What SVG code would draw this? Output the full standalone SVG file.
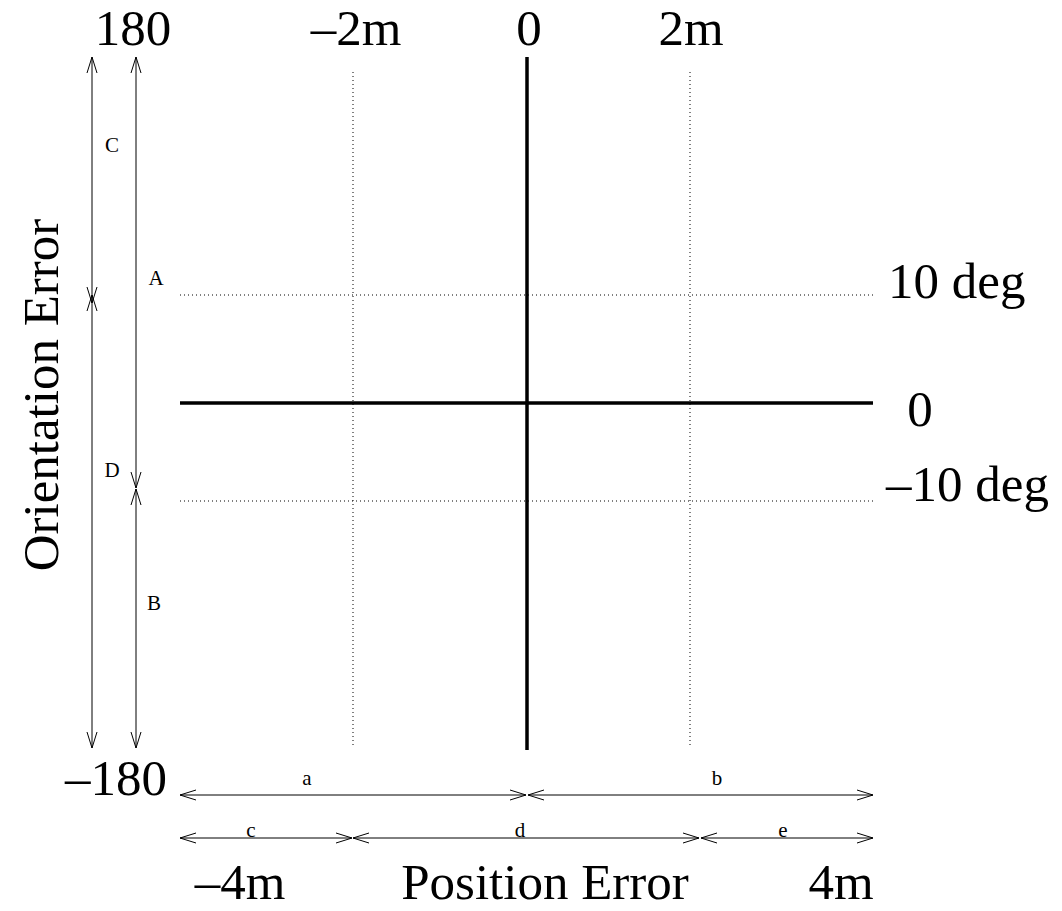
<svg xmlns="http://www.w3.org/2000/svg" width="1062" height="911" viewBox="0 0 1062 911">
<style>
.big{font-family:"Liberation Serif","Times New Roman",serif;font-size:51px;fill:#000}
.sm{font-family:"Liberation Serif","Times New Roman",serif;font-size:21px;fill:#000}
.axis{stroke:#000;stroke-width:3.5;fill:none}
.dot{stroke:#000;stroke-width:1;stroke-dasharray:1 3;fill:none}
.dim{stroke:#000;stroke-width:1;fill:none;marker-start:url(#ah);marker-end:url(#ah)}
</style>
<defs>
<marker id="ah" viewBox="-1 -6 18 12" refX="16" refY="0" markerWidth="18" markerHeight="12" markerUnits="userSpaceOnUse" orient="auto-start-reverse">
<path d="M0,-5 L16,0 L0,5" fill="none" stroke="#000" stroke-width="1"/>
</marker>
</defs>
<rect width="1062" height="911" fill="#fff"/>
<g id="grid">
<line class="dot" x1="353" y1="72" x2="353" y2="748"/>
<line class="dot" x1="690" y1="72" x2="690" y2="748"/>
<line class="dot" x1="180" y1="295" x2="873" y2="295"/>
<line class="dot" x1="180" y1="501" x2="873" y2="501"/>
</g>
<g id="axes">
<line class="axis" x1="527" y1="57" x2="527" y2="750"/>
<line class="axis" x1="180" y1="403" x2="873" y2="403"/>
</g>
<g id="connectors">
<line class="dim" x1="92" y1="57" x2="92" y2="303"/>
<line class="dim" x1="92" y1="295" x2="92" y2="748"/>
<line class="dim" x1="136" y1="57" x2="136" y2="488"/>
<line class="dim" x1="136" y1="489" x2="136" y2="748"/>
<line class="dim" x1="180" y1="795" x2="526" y2="795"/>
<line class="dim" x1="528" y1="795" x2="873" y2="795"/>
<line class="dim" x1="180" y1="838" x2="352" y2="838"/>
<line class="dim" x1="353" y1="838" x2="699" y2="838"/>
<line class="dim" x1="701" y1="838" x2="873" y2="838"/>
</g>
<g id="labels">
<text class="big" x="133" y="45" text-anchor="middle">180</text>
<text class="big" x="356" y="45" text-anchor="middle">–2m</text>
<text class="big" x="529" y="45" text-anchor="middle">0</text>
<text class="big" x="691" y="45" text-anchor="middle">2m</text>
<text class="big" x="888" y="298">10 deg</text>
<text class="big" x="920" y="426" text-anchor="middle">0</text>
<text class="big" x="886" y="501">–10 deg</text>
<text class="big" x="167" y="795" text-anchor="end">–180</text>
<text class="big" x="240" y="899" text-anchor="middle">–4m</text>
<text class="big" x="545" y="899" text-anchor="middle">Position Error</text>
<text class="big" x="841" y="899" text-anchor="middle">4m</text>
<text class="big" transform="translate(58,395) rotate(-90)" text-anchor="middle">Orientation Error</text>
<text class="sm" x="112" y="152" text-anchor="middle">C</text>
<text class="sm" x="156" y="285" text-anchor="middle">A</text>
<text class="sm" x="112" y="477" text-anchor="middle">D</text>
<text class="sm" x="154" y="610" text-anchor="middle">B</text>
<text class="sm" x="307" y="785" text-anchor="middle">a</text>
<text class="sm" x="717" y="785" text-anchor="middle">b</text>
<text class="sm" x="251" y="837" text-anchor="middle">c</text>
<text class="sm" x="520" y="837" text-anchor="middle">d</text>
<text class="sm" x="783" y="837" text-anchor="middle">e</text>
</g>
</svg>
